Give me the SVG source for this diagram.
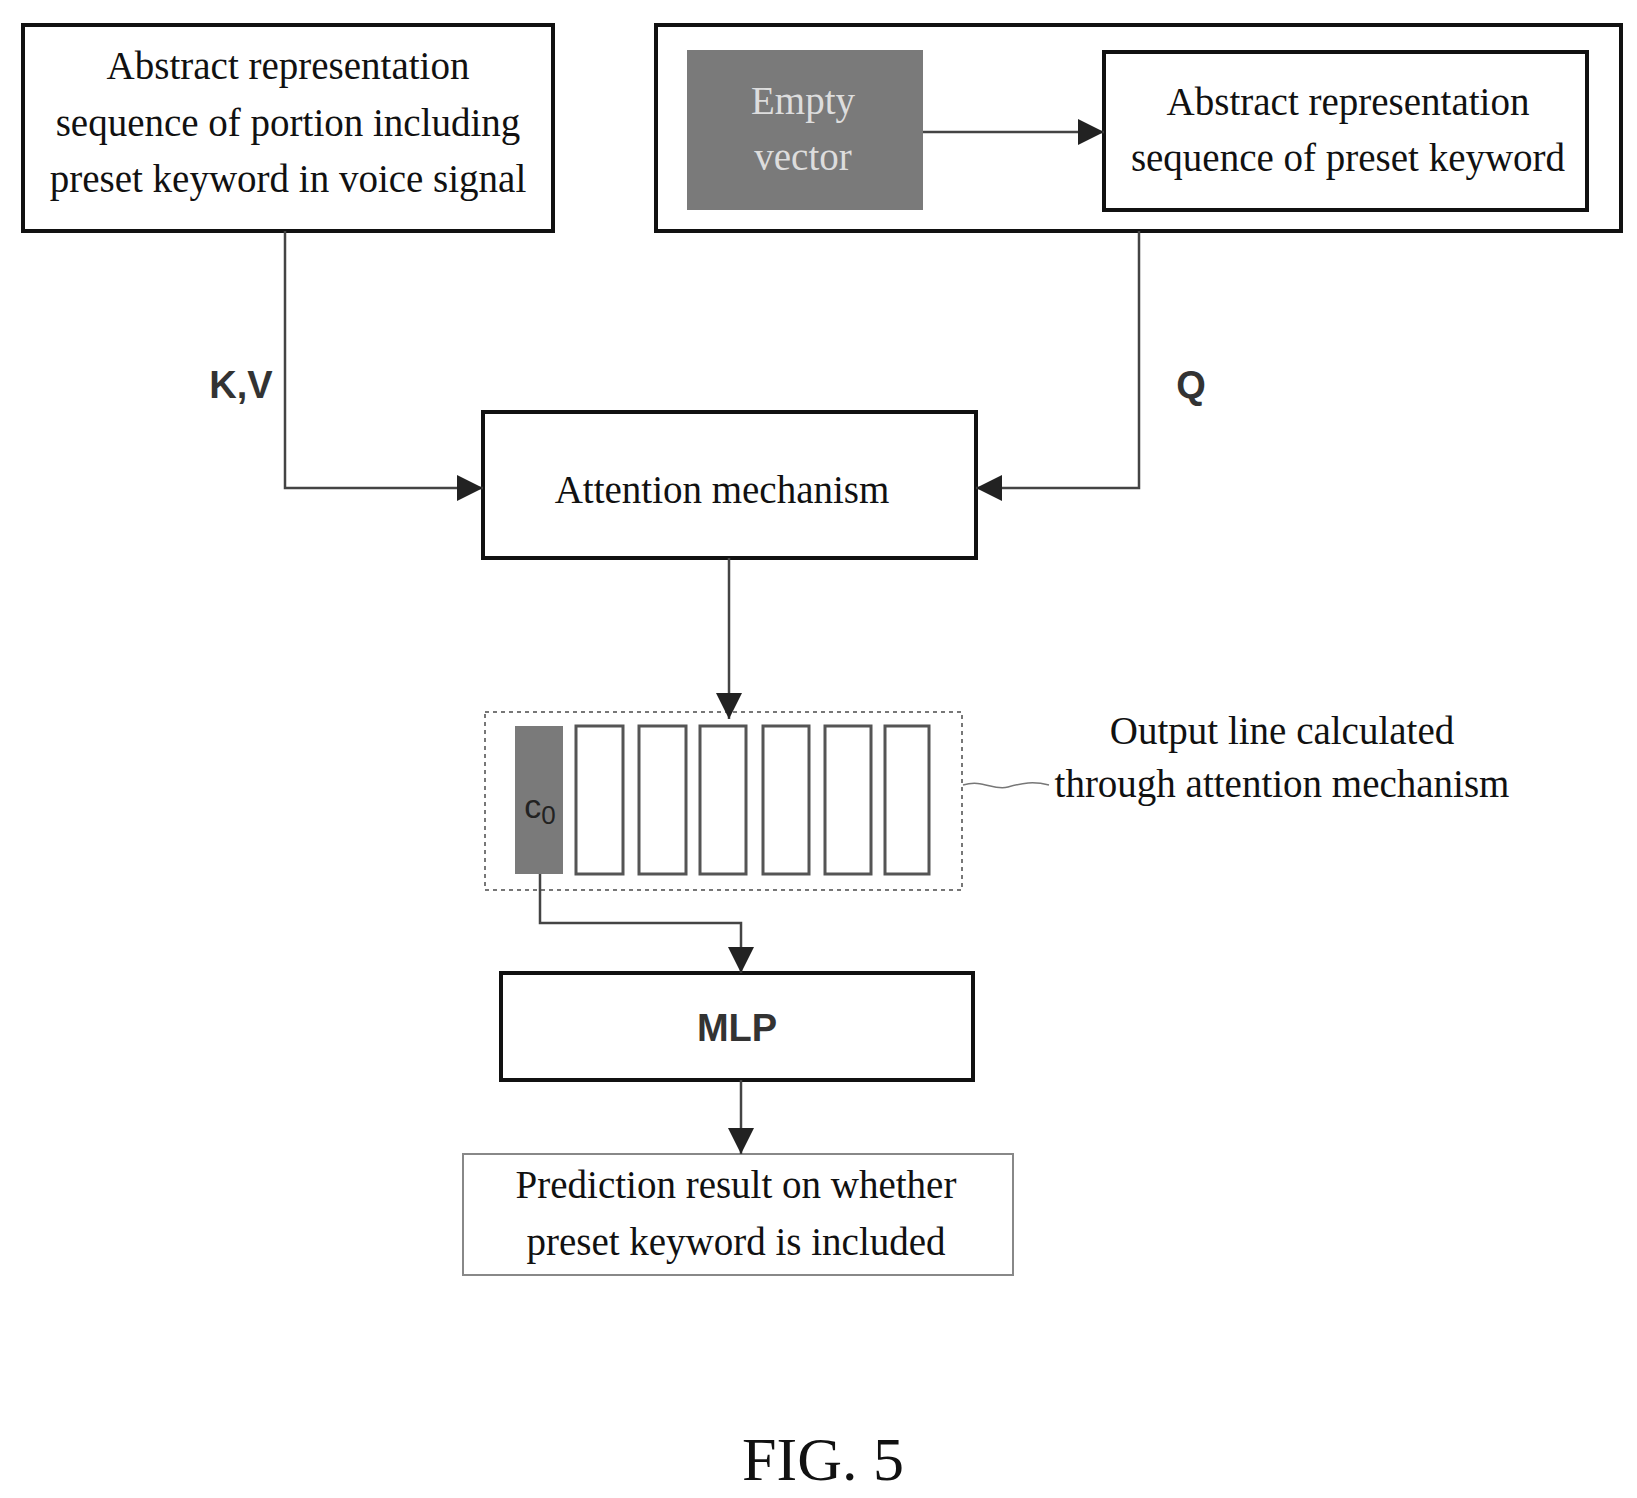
<svg xmlns="http://www.w3.org/2000/svg" width="1637" height="1498" viewBox="0 0 1637 1498">
<style>
.t{font-family:"Liberation Serif",serif;font-size:39px;fill:#111;text-anchor:middle}
.b{font-family:"Liberation Sans",sans-serif;font-weight:bold;font-size:38px;fill:#333;text-anchor:middle}
.box{fill:#fff;stroke:#111;stroke-width:4}
.cell{fill:#fff;stroke:#555;stroke-width:3}
.ln{fill:none;stroke:#444;stroke-width:2.5}
</style>
<defs><marker id="a" viewBox="0 0 10 10" refX="10" refY="5" markerWidth="9" markerHeight="9" markerUnits="userSpaceOnUse" orient="auto"><path d="M0,0L10,5L0,10z" fill="#222"/></marker>
<marker id="A" viewBox="0 0 10 10" refX="10" refY="5" markerWidth="26" markerHeight="26" markerUnits="userSpaceOnUse" orient="auto"><path d="M0,0L10,5L0,10z" fill="#222"/></marker></defs>
<g id="left"><rect class="box" x="23" y="25" width="530" height="206"/>
<text class="t" x="288" y="79">Abstract representation</text>
<text class="t" x="288" y="136">sequence of portion including</text>
<text class="t" x="288" y="192">preset keyword in voice signal</text></g>
<g id="right"><rect class="box" x="656" y="25" width="965" height="206" stroke-width="5"/>
<rect x="687" y="50" width="236" height="160" fill="#7a7a7a"/>
<text class="t" x="803" y="114" fill="#ddd" style="fill:#ddd">Empty</text>
<text class="t" x="803" y="170" style="fill:#ddd">vector</text>
<rect class="box" x="1104" y="52" width="483" height="158" stroke-width="5"/>
<text class="t" x="1348" y="115">Abstract representation</text>
<text class="t" x="1348" y="171">sequence of preset keyword</text></g>
<g id="att"><rect class="box" x="483" y="412" width="493" height="146"/>
<text class="t" x="722" y="503">Attention mechanism</text></g>
<g id="out"><rect x="485" y="712" width="477" height="178" fill="none" stroke="#777" stroke-width="2" stroke-dasharray="4,4"/>
<rect x="515" y="726" width="48" height="148" fill="#7a7a7a"/>
<text x="540" y="818" font-family="Liberation Sans,sans-serif" font-size="34" fill="#222" text-anchor="middle">c<tspan font-size="26" dy="6">0</tspan></text>
<rect class="cell" x="576" y="726" width="47" height="148"/>
<rect class="cell" x="639" y="726" width="47" height="148"/>
<rect class="cell" x="700" y="726" width="46" height="148"/>
<rect class="cell" x="763" y="726" width="46" height="148"/>
<rect class="cell" x="825" y="726" width="46" height="148"/>
<rect class="cell" x="885" y="726" width="44" height="148"/>
<text class="t" x="1282" y="744">Output line calculated</text>
<text class="t" x="1282" y="797">through attention mechanism</text></g>
<g id="mlp"><rect class="box" x="501" y="973" width="472" height="107"/>
<text class="b" x="737" y="1041">MLP</text></g>
<g id="pred"><rect x="463" y="1154" width="550" height="121" fill="#fff" stroke="#888" stroke-width="2"/>
<text class="t" x="736" y="1198">Prediction result on whether</text>
<text class="t" x="736" y="1255">preset keyword is included</text></g>
<g id="conn">
<path class="ln" d="M923,132H1104" marker-end="url(#A)"/>
<path class="ln" d="M285,231V488H483" marker-end="url(#A)"/>
<path class="ln" d="M1139,231V488H976" marker-end="url(#A)"/>
<path class="ln" d="M729,558V719" marker-end="url(#A)"/>
<path class="ln" d="M540,874V923H741V973" marker-end="url(#A)"/>
<path class="ln" d="M741,1080V1154" marker-end="url(#A)"/>
<path d="M963,785c20,-6 30,6 45,2s25,-6 41,-2" fill="none" stroke="#777" stroke-width="1.5"/>
<text class="b" x="241" y="398">K,V</text>
<text class="b" x="1191" y="398">Q</text>
</g>
<text x="823" y="1480" font-family="Liberation Serif,serif" font-size="62" text-anchor="middle" fill="#111">FIG. 5</text>
</svg>
